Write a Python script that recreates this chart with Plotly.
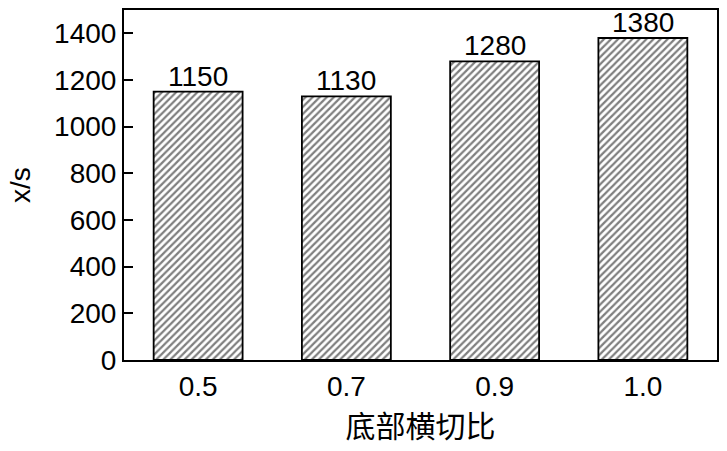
import plotly.graph_objects as go

categories = ["0.5", "0.7", "0.9", "1.0"]
values = [1150, 1130, 1280, 1380]
y_ticks = [0, 200, 400, 600, 800, 1000, 1200, 1400]

fig = go.Figure()
fig.add_trace(go.Bar(
    x=categories, y=values, width=0.6,
    marker=dict(color="white", line=dict(color="black", width=1.8),
                pattern=dict(shape="/", size=5, solidity=0.45, fgcolor="black", bgcolor="white")),
    hoverinfo="skip",
))
for i, v in enumerate(values):
    fig.add_annotation(x=i, y=v, text=str(v), showarrow=False, yanchor="bottom",
                       yshift=-2, font=dict(family="Arial, Liberation Sans", size=28, color="black"))
fig.add_annotation(x=0, xref="paper", xshift=-104, xanchor="center", y=0.5, yref="paper",
                   yanchor="middle", text="x/s", textangle=-90, showarrow=False,
                   font=dict(family="Arial, Liberation Sans", size=28, color="black"))
fig.update_layout(
    width=727, height=451, margin=dict(l=124, r=10, t=10, b=91),
    plot_bgcolor="white", paper_bgcolor="white", showlegend=False,
    font=dict(family="Arial, Liberation Sans", color="black"),
)
fig.update_xaxes(
    type="category", range=[-0.5, 3.5], showline=True, linecolor="black", linewidth=2,
    mirror=True, ticks="", showgrid=False, automargin=False,
    tickfont=dict(size=28),
    title=dict(text="底部横切比", font=dict(family="Noto Sans CJK SC", size=30), standoff=14),
)
fig.update_yaxes(
    range=[0, 1500], tickvals=y_ticks, showline=True, linecolor="black", linewidth=2,
    mirror=True, ticks="inside", ticklen=9, tickwidth=2, tickcolor="black", showgrid=False,
    zeroline=False, tickfont=dict(size=28), automargin=False,
)
fig.write_html("out.html", config={"displayModeBar": False},
               post_script="document.body.style.margin='0';")
